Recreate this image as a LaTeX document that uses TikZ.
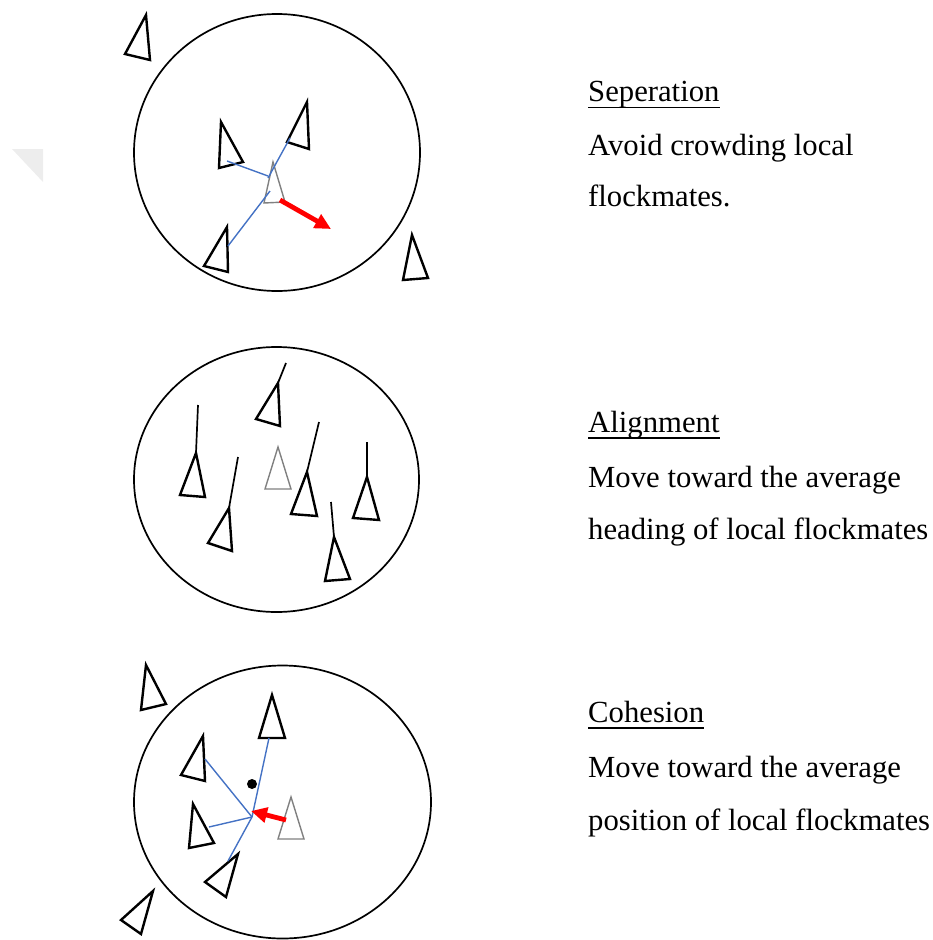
\documentclass[tikz,border=0pt]{standalone}
\usepackage{fontspec}
\setmainfont{Liberation Serif}
\usetikzlibrary{arrows.meta}
\definecolor{linkblue}{HTML}{4472C4}
\definecolor{wmgray}{HTML}{EDEDED}
\tikzset{
  zone/.style={draw=black, line width=1.7pt},
  boid/.style={draw=black, line width=2.4pt, line join=miter},
  self/.style={draw=gray, line width=1.4pt},
  link/.style={draw=linkblue, line width=1.4pt},
  heading/.style={draw=black, line width=1.7pt},
  steer/.style={draw=red, line width=4.8pt, -{Triangle[length=16pt,width=15pt]}},
  lbl/.style={anchor=base west, inner sep=0pt, font=\fontsize{30.7}{36}\selectfont},
  uline/.style={draw=black, line width=1.7pt}
}
\begin{document}
\begin{tikzpicture}[x=1pt,y=-1pt]
\useasboundingbox (0,0) rectangle (932,940);
% faint watermark
\fill[wmgray] (12,149) -- (43,149) -- (43,182) -- cycle;

% ===== Separation =====
\draw[zone] (277,152.5) ellipse [x radius=143, y radius=138.5];
\draw[boid] (146,15) -- (125,54) -- (150,60) -- cycle;
\draw[boid] (221,122) -- (219,168) -- (243,162) -- cycle;
\draw[boid] (307,102) -- (287,142) -- (309,149) -- cycle;
\draw[boid] (227,227) -- (204,266) -- (228,272) -- cycle;
\draw[boid] (412,235) -- (403,280) -- (428,278) -- cycle;
\draw[self] (273,162) -- (264,203) -- (285,202) -- cycle;
\draw[link] (227,161) -- (268,176);
\draw[link] (290,138) -- (268,178);
\draw[link] (228,246) -- (270,191);
\coordinate (s1) at (280,200);
\coordinate (s2) at (331,229);
\draw[steer] (s1) -- (s2);

\node[lbl] (t1) at (588,101.5) {Seperation};
\draw[uline] ([yshift=-6pt]t1.base west) -- ([yshift=-6pt]t1.base east);
\node[lbl] (t1a) at (588,155) {Avoid crowding local};
\node[lbl] (t1b) at (588,206.5) {flockmates.};

% ===== Alignment =====
\draw[zone] (276.5,479.5) ellipse [x radius=142.5, y radius=132.5];
\draw[boid] (278,383) -- (256,419) -- (280,426) -- cycle;
\draw[heading] (278,383) -- (286,363);
\draw[boid] (196,453) -- (180,495) -- (205,497) -- cycle;
\draw[heading] (196,453) -- (198,405);
\draw[boid] (229,508) -- (208,543) -- (232,551) -- cycle;
\draw[heading] (229,508) -- (238,457);
\draw[self] (278,447) -- (265,489) -- (291,489) -- cycle;
\draw[boid] (307,472) -- (291,514) -- (317,516) -- cycle;
\draw[heading] (307,472) -- (319,422);
\draw[boid] (367,477) -- (353,518) -- (379,520) -- cycle;
\draw[heading] (367,477) -- (367,442);
\draw[boid] (334,537) -- (325,581) -- (350,579) -- cycle;
\draw[heading] (334,537) -- (331,502);

\node[lbl] (t2) at (588,432) {Alignment};
\draw[uline] ([yshift=-6pt]t2.base west) -- ([yshift=-6pt]t2.base east);
\node[lbl] (t2a) at (588,487) {Move toward the average};
\node[lbl] (t2b) at (588,539) {heading of local flockmates};

% ===== Cohesion =====
\draw[zone] (282.5,802) ellipse [x radius=148.5, y radius=136.5];
\draw[boid] (146,665) -- (141,710) -- (166,704) -- cycle;
\draw[boid] (272,695) -- (259,738) -- (285,738) -- cycle;
\draw[boid] (203,736) -- (181,775) -- (205,781) -- cycle;
\draw[boid] (193,804) -- (189,848) -- (214,843) -- cycle;
\draw[boid] (238,854) -- (205,882) -- (226,897) -- cycle;
\draw[boid] (153,891) -- (121,920) -- (141,934) -- cycle;
\draw[self] (291,797) -- (278,839) -- (304,839) -- cycle;
\coordinate (c0) at (252,817);
\draw[link] (c0) -- (269,738);
\draw[link] (c0) -- (205,759);
\draw[link] (c0) -- (209,827);
\draw[link] (c0) -- (228,861);
\fill[black] (252,784) circle (5);
\coordinate (c1) at (286,820);
\coordinate (c2) at (251,811);
\draw[steer] (c1) -- (c2);

\node[lbl] (t3) at (588,722) {Cohesion};
\draw[uline] ([yshift=-6pt]t3.base west) -- ([yshift=-6pt]t3.base east);
\node[lbl] (t3a) at (588,777) {Move toward the average};
\node[lbl] (t3b) at (588,830) {position of local flockmates};
\end{tikzpicture}
\end{document}
